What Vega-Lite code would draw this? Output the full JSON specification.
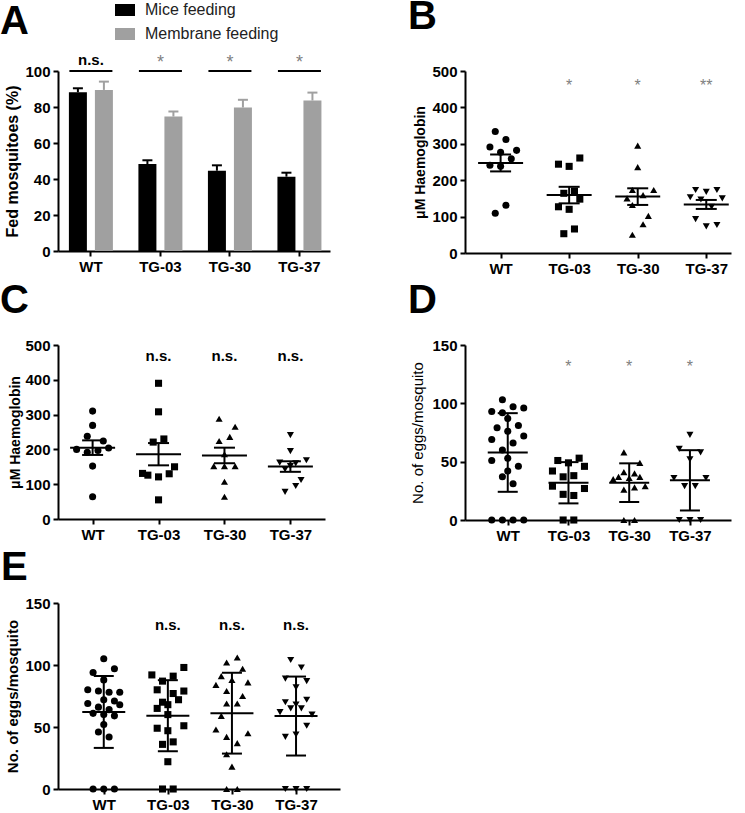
{
  "$schema": "https://vega.github.io/schema/vega-lite/v6.json",
  "padding": {"left": 0, "top": -4, "right": 5, "bottom": 0},
  "background": "white",
  "datasets": {
    "A": [
      {"g": "WT", "feed": "Mice feeding", "pct": 88.2, "upper": 90.4},
      {"g": "WT", "feed": "Membrane feeding", "pct": 89.5, "upper": 94.1},
      {"g": "TG-03", "feed": "Mice feeding", "pct": 48.3, "upper": 50.4},
      {"g": "TG-03", "feed": "Membrane feeding", "pct": 74.7, "upper": 77.5},
      {"g": "TG-30", "feed": "Mice feeding", "pct": 44.6, "upper": 47.6},
      {"g": "TG-30", "feed": "Membrane feeding", "pct": 79.7, "upper": 84.0},
      {"g": "TG-37", "feed": "Mice feeding", "pct": 41.3, "upper": 43.5},
      {"g": "TG-37", "feed": "Membrane feeding", "pct": 83.6, "upper": 88.0}
    ],
    "Asig": [
      {"g": "WT", "s": "n.s."}, {"g": "TG-03", "s": "*"}, {"g": "TG-30", "s": "*"}, {"g": "TG-37", "s": "*"}
    ],
    "B": [
      {"g": "WT", "v": 334, "j": -1}, {"g": "WT", "v": 312, "j": 1}, {"g": "WT", "v": 291, "j": -2}, {"g": "WT", "v": 277, "j": 0}, {"g": "WT", "v": 282, "j": 3},
      {"g": "WT", "v": 259, "j": 2}, {"g": "WT", "v": 241, "j": -2}, {"g": "WT", "v": 238, "j": 0}, {"g": "WT", "v": 109, "j": -1}, {"g": "WT", "v": 131, "j": 1},
      {"g": "TG-03", "v": 244, "j": -2}, {"g": "TG-03", "v": 238, "j": 0}, {"g": "TG-03", "v": 261, "j": 2}, {"g": "TG-03", "v": 164, "j": -1}, {"g": "TG-03", "v": 170, "j": 1},
      {"g": "TG-03", "v": 148, "j": 2}, {"g": "TG-03", "v": 127, "j": -2}, {"g": "TG-03", "v": 120, "j": 0}, {"g": "TG-03", "v": 53, "j": -1}, {"g": "TG-03", "v": 66, "j": 1},
      {"g": "TG-30", "v": 295, "j": 0}, {"g": "TG-30", "v": 236, "j": 0}, {"g": "TG-30", "v": 173, "j": -1}, {"g": "TG-30", "v": 173, "j": 3}, {"g": "TG-30", "v": 150, "j": -2},
      {"g": "TG-30", "v": 159, "j": 1}, {"g": "TG-30", "v": 132, "j": -1}, {"g": "TG-30", "v": 102, "j": 2}, {"g": "TG-30", "v": 79, "j": 1}, {"g": "TG-30", "v": 50, "j": -1},
      {"g": "TG-37", "v": 173, "j": -2}, {"g": "TG-37", "v": 168, "j": 0}, {"g": "TG-37", "v": 173, "j": 2}, {"g": "TG-37", "v": 153, "j": -3}, {"g": "TG-37", "v": 147, "j": -1},
      {"g": "TG-37", "v": 150, "j": 3}, {"g": "TG-37", "v": 127, "j": 1}, {"g": "TG-37", "v": 93, "j": -2}, {"g": "TG-37", "v": 73, "j": 0}, {"g": "TG-37", "v": 77, "j": 2}
    ],
    "Bsig": [{"g": "TG-03", "s": "*"}, {"g": "TG-30", "s": "*"}, {"g": "TG-37", "s": "**"}],
    "C": [
      {"g": "WT", "v": 310, "j": 0}, {"g": "WT", "v": 269, "j": 0}, {"g": "WT", "v": 238, "j": -1}, {"g": "WT", "v": 224, "j": 2}, {"g": "WT", "v": 200, "j": -3},
      {"g": "WT", "v": 192, "j": -1}, {"g": "WT", "v": 197, "j": 1}, {"g": "WT", "v": 204, "j": 3}, {"g": "WT", "v": 152, "j": 0}, {"g": "WT", "v": 64, "j": 0},
      {"g": "TG-03", "v": 390, "j": 0}, {"g": "TG-03", "v": 308, "j": 0}, {"g": "TG-03", "v": 221, "j": -1}, {"g": "TG-03", "v": 230, "j": 1}, {"g": "TG-03", "v": 150, "j": 3},
      {"g": "TG-03", "v": 131, "j": -3}, {"g": "TG-03", "v": 126, "j": -2}, {"g": "TG-03", "v": 121, "j": 0}, {"g": "TG-03", "v": 130, "j": 2}, {"g": "TG-03", "v": 55, "j": 0},
      {"g": "TG-30", "v": 288, "j": -1}, {"g": "TG-30", "v": 265, "j": 2}, {"g": "TG-30", "v": 224, "j": -1}, {"g": "TG-30", "v": 236, "j": 1}, {"g": "TG-30", "v": 186, "j": 0},
      {"g": "TG-30", "v": 152, "j": -2}, {"g": "TG-30", "v": 152, "j": 0}, {"g": "TG-30", "v": 152, "j": 2}, {"g": "TG-30", "v": 107, "j": 0}, {"g": "TG-30", "v": 64, "j": 0},
      {"g": "TG-37", "v": 241, "j": 0}, {"g": "TG-37", "v": 195, "j": 0}, {"g": "TG-37", "v": 162, "j": -2}, {"g": "TG-37", "v": 169, "j": 3}, {"g": "TG-37", "v": 160, "j": 1},
      {"g": "TG-37", "v": 143, "j": -1}, {"g": "TG-37", "v": 152, "j": 0}, {"g": "TG-37", "v": 112, "j": 2}, {"g": "TG-37", "v": 95, "j": 1}, {"g": "TG-37", "v": 78, "j": -1}
    ],
    "Csig": [{"g": "TG-03", "s": "n.s."}, {"g": "TG-30", "s": "n.s."}, {"g": "TG-37", "s": "n.s."}],
    "D": [
      {"g": "WT", "v": 103, "j": -1}, {"g": "WT", "v": 97, "j": 1}, {"g": "WT", "v": 96, "j": 3}, {"g": "WT", "v": 93, "j": -3}, {"g": "WT", "v": 92, "j": -1},
      {"g": "WT", "v": 87, "j": 0}, {"g": "WT", "v": 81, "j": 2}, {"g": "WT", "v": 79, "j": -2}, {"g": "WT", "v": 76, "j": 0}, {"g": "WT", "v": 72, "j": 3},
      {"g": "WT", "v": 69, "j": -3}, {"g": "WT", "v": 66, "j": 1}, {"g": "WT", "v": 60, "j": -1}, {"g": "WT", "v": 53, "j": 0}, {"g": "WT", "v": 51, "j": -3},
      {"g": "WT", "v": 46, "j": 2}, {"g": "WT", "v": 42, "j": 0}, {"g": "WT", "v": 37, "j": -1}, {"g": "WT", "v": 31, "j": 1},
      {"g": "WT", "v": 0, "j": -3}, {"g": "WT", "v": 0, "j": -1}, {"g": "WT", "v": 0, "j": 1}, {"g": "WT", "v": 0, "j": 3},
      {"g": "TG-03", "v": 51, "j": -2}, {"g": "TG-03", "v": 49, "j": 0}, {"g": "TG-03", "v": 53, "j": 2}, {"g": "TG-03", "v": 42, "j": -3}, {"g": "TG-03", "v": 46, "j": 3},
      {"g": "TG-03", "v": 37, "j": -1}, {"g": "TG-03", "v": 38, "j": 1}, {"g": "TG-03", "v": 29, "j": -3}, {"g": "TG-03", "v": 27, "j": 3}, {"g": "TG-03", "v": 22, "j": -1},
      {"g": "TG-03", "v": 21, "j": 1}, {"g": "TG-03", "v": 0, "j": -1}, {"g": "TG-03", "v": 0, "j": 1},
      {"g": "TG-30", "v": 58, "j": -1}, {"g": "TG-30", "v": 49, "j": 2}, {"g": "TG-30", "v": 37, "j": -2}, {"g": "TG-30", "v": 41, "j": -1}, {"g": "TG-30", "v": 40, "j": 1},
      {"g": "TG-30", "v": 37, "j": 2}, {"g": "TG-30", "v": 36, "j": 0}, {"g": "TG-30", "v": 26, "j": -1}, {"g": "TG-30", "v": 28, "j": 1}, {"g": "TG-30", "v": 29, "j": 3},
      {"g": "TG-30", "v": 35, "j": -3}, {"g": "TG-30", "v": 0, "j": -1}, {"g": "TG-30", "v": 0, "j": 1},
      {"g": "TG-37", "v": 73, "j": 0}, {"g": "TG-37", "v": 61, "j": -2}, {"g": "TG-37", "v": 58, "j": 2}, {"g": "TG-37", "v": 52, "j": 0}, {"g": "TG-37", "v": 36, "j": -3},
      {"g": "TG-37", "v": 36, "j": 3}, {"g": "TG-37", "v": 29, "j": -1}, {"g": "TG-37", "v": 29, "j": 1}, {"g": "TG-37", "v": 0, "j": -2}, {"g": "TG-37", "v": 0, "j": 0},
      {"g": "TG-37", "v": 0, "j": 2}
    ],
    "Dsig": [{"g": "TG-03", "s": "*"}, {"g": "TG-30", "s": "*"}, {"g": "TG-37", "s": "*"}],
    "E": [
      {"g": "WT", "v": 105, "j": 0}, {"g": "WT", "v": 97, "j": 2}, {"g": "WT", "v": 94, "j": -2}, {"g": "WT", "v": 88, "j": 0}, {"g": "WT", "v": 80, "j": -3},
      {"g": "WT", "v": 79, "j": -1}, {"g": "WT", "v": 78, "j": 1}, {"g": "WT", "v": 78, "j": 3}, {"g": "WT", "v": 72, "j": 0}, {"g": "WT", "v": 71, "j": 2},
      {"g": "WT", "v": 69, "j": -3}, {"g": "WT", "v": 68, "j": 3}, {"g": "WT", "v": 66, "j": -1}, {"g": "WT", "v": 64, "j": 1}, {"g": "WT", "v": 61, "j": -2},
      {"g": "WT", "v": 60, "j": 0}, {"g": "WT", "v": 59, "j": 2}, {"g": "WT", "v": 52, "j": 0}, {"g": "WT", "v": 46, "j": -1}, {"g": "WT", "v": 42, "j": 1},
      {"g": "WT", "v": 0, "j": -2}, {"g": "WT", "v": 0, "j": 0}, {"g": "WT", "v": 0, "j": 2},
      {"g": "TG-03", "v": 92, "j": -3}, {"g": "TG-03", "v": 91, "j": 1}, {"g": "TG-03", "v": 98, "j": 3}, {"g": "TG-03", "v": 87, "j": -1}, {"g": "TG-03", "v": 80, "j": -2},
      {"g": "TG-03", "v": 77, "j": 1}, {"g": "TG-03", "v": 79, "j": 3}, {"g": "TG-03", "v": 70, "j": -1}, {"g": "TG-03", "v": 65, "j": -2}, {"g": "TG-03", "v": 72, "j": 2},
      {"g": "TG-03", "v": 68, "j": 0}, {"g": "TG-03", "v": 60, "j": 0}, {"g": "TG-03", "v": 49, "j": -2}, {"g": "TG-03", "v": 47, "j": 0}, {"g": "TG-03", "v": 51, "j": 3},
      {"g": "TG-03", "v": 36, "j": -1}, {"g": "TG-03", "v": 38, "j": 1}, {"g": "TG-03", "v": 22, "j": 0}, {"g": "TG-03", "v": 0, "j": -1}, {"g": "TG-03", "v": 0, "j": 1},
      {"g": "TG-30", "v": 102, "j": -1}, {"g": "TG-30", "v": 106, "j": 1}, {"g": "TG-30", "v": 97, "j": 2}, {"g": "TG-30", "v": 84, "j": -3}, {"g": "TG-30", "v": 91, "j": -2},
      {"g": "TG-30", "v": 88, "j": 0}, {"g": "TG-30", "v": 86, "j": 3}, {"g": "TG-30", "v": 79, "j": -1}, {"g": "TG-30", "v": 75, "j": 2}, {"g": "TG-30", "v": 69, "j": -1},
      {"g": "TG-30", "v": 69, "j": 1}, {"g": "TG-30", "v": 59, "j": -2}, {"g": "TG-30", "v": 48, "j": -3}, {"g": "TG-30", "v": 42, "j": -1}, {"g": "TG-30", "v": 37, "j": 1},
      {"g": "TG-30", "v": 45, "j": 3}, {"g": "TG-30", "v": 28, "j": -1}, {"g": "TG-30", "v": 18, "j": 0}, {"g": "TG-30", "v": 0, "j": -1}, {"g": "TG-30", "v": 0, "j": 1},
      {"g": "TG-37", "v": 104, "j": -1}, {"g": "TG-37", "v": 98, "j": 1}, {"g": "TG-37", "v": 89, "j": -2}, {"g": "TG-37", "v": 87, "j": 2}, {"g": "TG-37", "v": 82, "j": 0},
      {"g": "TG-37", "v": 70, "j": -2}, {"g": "TG-37", "v": 72, "j": 2}, {"g": "TG-37", "v": 68, "j": 0}, {"g": "TG-37", "v": 65, "j": -1}, {"g": "TG-37", "v": 65, "j": 1},
      {"g": "TG-37", "v": 62, "j": -3}, {"g": "TG-37", "v": 60, "j": 3}, {"g": "TG-37", "v": 51, "j": 2}, {"g": "TG-37", "v": 44, "j": 0}, {"g": "TG-37", "v": 42, "j": -2},
      {"g": "TG-37", "v": 0, "j": -2}, {"g": "TG-37", "v": 0, "j": 0}, {"g": "TG-37", "v": 0, "j": 2}
    ],
    "Esig": [{"g": "TG-03", "s": "n.s."}, {"g": "TG-30", "s": "n.s."}, {"g": "TG-37", "s": "n.s."}]
  },
  "vconcat": [
    {
      "hconcat": [
        {
          "width": 272, "height": 180,
          "title": {"text": "A", "dx": -58, "offset": 11.5},
          "layer": [
            {
              "data": {"name": "A"},
              "mark": {"type": "bar", "opacity": 1},
              "encoding": {
                "x": {"field": "g", "type": "nominal", "sort": ["WT", "TG-03", "TG-30", "TG-37"], "scale": {"paddingInner": 0.367, "paddingOuter": 0.14, "align": 0.56}, "axis": {"title": null, "labelAngle": 0}},
                "xOffset": {"field": "feed", "type": "nominal", "sort": ["Mice feeding", "Membrane feeding"], "scale": {"paddingInner": 0.308, "paddingOuter": 0}},
                "y": {"field": "pct", "type": "quantitative", "scale": {"domain": [0, 100], "nice": false}, "title": "Fed mosquitoes (%)", "axis": {"values": [0, 20, 40, 60, 80, 100], "titleFontSize": 16, "titlePadding": 4, "labelOverlap": false}},
                "color": {"field": "feed", "type": "nominal", "sort": ["Mice feeding", "Membrane feeding"], "scale": {"domain": ["Mice feeding", "Membrane feeding"], "range": ["#000000", "#a0a0a0"]},
                  "legend": {"title": null, "orient": "none", "legendX": 57, "legendY": -71, "direction": "vertical", "symbolType": "M-1,-0.6H1V0.6H-1Z", "symbolSize": 400, "symbolStrokeWidth": 0, "symbolOpacity": 1, "labelFontSize": 16, "labelFont": "Liberation Sans", "labelColor": "#222222", "labelOffset": 10, "rowPadding": 6, "padding": 0}}
              }
            },
            {
              "data": {"name": "A"},
              "mark": {"type": "rule", "strokeWidth": 2, "opacity": 1},
              "encoding": {
                "x": {"field": "g", "type": "nominal", "sort": ["WT", "TG-03", "TG-30", "TG-37"]},
                "xOffset": {"field": "feed", "type": "nominal", "sort": ["Mice feeding", "Membrane feeding"]},
                "y": {"field": "pct", "type": "quantitative", "title": "Fed mosquitoes (%)", "axis": {"values": [0, 20, 40, 60, 80, 100], "titleFontSize": 16, "titlePadding": 4, "labelOverlap": false}},
                "y2": {"field": "upper"},
                "color": {"field": "feed", "type": "nominal", "sort": ["Mice feeding", "Membrane feeding"]}
              }
            },
            {
              "data": {"name": "A"},
              "mark": {"type": "tick", "thickness": 2, "size": 10, "orient": "horizontal", "opacity": 1},
              "encoding": {
                "x": {"field": "g", "type": "nominal", "sort": ["WT", "TG-03", "TG-30", "TG-37"]},
                "xOffset": {"field": "feed", "type": "nominal", "sort": ["Mice feeding", "Membrane feeding"]},
                "y": {"field": "upper", "type": "quantitative", "title": "Fed mosquitoes (%)", "axis": {"values": [0, 20, 40, 60, 80, 100], "titleFontSize": 16, "titlePadding": 4, "labelOverlap": false}},
                "color": {"field": "feed", "type": "nominal", "sort": ["Mice feeding", "Membrane feeding"]}
              }
            },
            {
              "data": {"name": "Asig"},
              "mark": {"type": "tick", "thickness": 2, "size": 43, "orient": "horizontal", "color": "black", "opacity": 1},
              "encoding": {
                "x": {"field": "g", "type": "nominal", "sort": ["WT", "TG-03", "TG-30", "TG-37"]},
                "y": {"datum": 100, "type": "quantitative", "title": "Fed mosquitoes (%)", "axis": {"values": [0, 20, 40, 60, 80, 100], "titleFontSize": 16, "titlePadding": 4, "labelOverlap": false}}
              }
            },
            {
              "data": {"name": "Asig"},
              "transform": [{"filter": "datum.s === 'n.s.'"}],
              "mark": {"type": "text", "fontSize": 15, "fontWeight": "bold", "font": "Liberation Sans", "color": "black", "baseline": "alphabetic"},
              "encoding": {
                "x": {"field": "g", "type": "nominal", "sort": ["WT", "TG-03", "TG-30", "TG-37"]},
                "y": {"datum": 103.3, "type": "quantitative", "title": "Fed mosquitoes (%)", "axis": {"values": [0, 20, 40, 60, 80, 100], "titleFontSize": 16, "titlePadding": 4, "labelOverlap": false}},
                "text": {"field": "s"}
              }
            },
            {
              "data": {"name": "Asig"},
              "transform": [{"filter": "datum.s === '*'"}],
              "mark": {"type": "text", "fontSize": 18, "font": "Liberation Sans", "color": "#808080", "baseline": "alphabetic"},
              "encoding": {
                "x": {"field": "g", "type": "nominal", "sort": ["WT", "TG-03", "TG-30", "TG-37"]},
                "y": {"datum": 101.5, "type": "quantitative", "title": "Fed mosquitoes (%)", "axis": {"values": [0, 20, 40, 60, 80, 100], "titleFontSize": 16, "titlePadding": 4, "labelOverlap": false}},
                "text": {"field": "s"}
              }
            }
          ]
        },
        {
          "width": 266, "height": 182,
          "title": {"text": "B", "dx": -57, "offset": 27.5},
          "layer": [
            {
              "data": {"name": "B"},
              "mark": {"type": "point", "filled": true, "opacity": 1, "size": 50, "color": "black"},
              "encoding": {
                "x": {"field": "g", "type": "nominal", "sort": ["WT", "TG-03", "TG-30", "TG-37"], "scale": {"type": "point", "padding": 0.44, "align": 0.59}, "axis": {"title": null, "labelAngle": 0}},
                "xOffset": {"field": "j", "type": "quantitative", "scale": {"domain": [-6, 6], "range": [-32, 32]}},
                "y": {"field": "v", "type": "quantitative", "scale": {"domain": [0, 500], "nice": false}, "title": "μM Haemoglobin", "axis": {"values": [0, 100, 200, 300, 400, 500], "titlePadding": 4, "labelOverlap": false}},
                "shape": {"field": "g", "type": "nominal", "scale": {"domain": ["WT", "TG-03", "TG-30", "TG-37"], "range": ["circle", "square", "triangle-up", "triangle-down"]}, "legend": null}
              }
            },
            {
              "data": {"name": "B"},
              "mark": {"type": "tick", "orient": "horizontal", "size": 45, "thickness": 2, "color": "black", "opacity": 1},
              "encoding": {
                "x": {"field": "g", "type": "nominal", "sort": ["WT", "TG-03", "TG-30", "TG-37"]},
                "y": {"aggregate": "mean", "field": "v", "type": "quantitative", "title": "μM Haemoglobin", "axis": {"values": [0, 100, 200, 300, 400, 500], "titlePadding": 4, "labelOverlap": false}}
              }
            },
            {
              "data": {"name": "B"},
              "mark": {"type": "errorbar", "extent": "stderr", "ticks": {"size": 21, "thickness": 2, "color": "black", "opacity": 1}, "rule": {"strokeWidth": 2, "color": "black", "opacity": 1}},
              "encoding": {
                "x": {"field": "g", "type": "nominal", "sort": ["WT", "TG-03", "TG-30", "TG-37"]},
                "y": {"field": "v", "type": "quantitative", "title": "μM Haemoglobin", "axis": {"values": [0, 100, 200, 300, 400, 500], "titlePadding": 4, "labelOverlap": false}}
              }
            },
            {
              "data": {"name": "Bsig"},
              "mark": {"type": "text", "fontSize": 16, "font": "Liberation Sans", "color": "#808080", "baseline": "alphabetic"},
              "encoding": {
                "x": {"field": "g", "type": "nominal", "sort": ["WT", "TG-03", "TG-30", "TG-37"]},
                "y": {"datum": 444, "type": "quantitative", "title": "μM Haemoglobin", "axis": {"values": [0, 100, 200, 300, 400, 500], "titlePadding": 4, "labelOverlap": false}},
                "text": {"field": "s"}
              }
            }
          ]
        }
      ],
      "spacing": 78
    },
    {
      "hconcat": [
        {
          "width": 267, "height": 174,
          "title": {"text": "C", "dx": -58, "offset": 17},
          "layer": [
            {
              "data": {"name": "C"},
              "mark": {"type": "point", "filled": true, "opacity": 1, "size": 50, "color": "black"},
              "encoding": {
                "x": {"field": "g", "type": "nominal", "sort": ["WT", "TG-03", "TG-30", "TG-37"], "scale": {"type": "point", "padding": 0.525, "align": 0.5}, "axis": {"title": null, "labelAngle": 0}},
                "xOffset": {"field": "j", "type": "quantitative", "scale": {"domain": [-6, 6], "range": [-32, 32]}},
                "y": {"field": "v", "type": "quantitative", "scale": {"domain": [0, 500], "nice": false}, "title": "μM Haemoglobin", "axis": {"values": [0, 100, 200, 300, 400, 500], "titlePadding": 2, "labelOverlap": false}},
                "shape": {"field": "g", "type": "nominal", "scale": {"domain": ["WT", "TG-03", "TG-30", "TG-37"], "range": ["circle", "square", "triangle-up", "triangle-down"]}, "legend": null}
              }
            },
            {
              "data": {"name": "C"},
              "mark": {"type": "tick", "orient": "horizontal", "size": 45, "thickness": 2, "color": "black", "opacity": 1},
              "encoding": {
                "x": {"field": "g", "type": "nominal", "sort": ["WT", "TG-03", "TG-30", "TG-37"]},
                "y": {"aggregate": "mean", "field": "v", "type": "quantitative", "title": "μM Haemoglobin", "axis": {"values": [0, 100, 200, 300, 400, 500], "titlePadding": 2, "labelOverlap": false}}
              }
            },
            {
              "data": {"name": "C"},
              "mark": {"type": "errorbar", "extent": "stderr", "ticks": {"size": 21, "thickness": 2, "color": "black", "opacity": 1}, "rule": {"strokeWidth": 2, "color": "black", "opacity": 1}},
              "encoding": {
                "x": {"field": "g", "type": "nominal", "sort": ["WT", "TG-03", "TG-30", "TG-37"]},
                "y": {"field": "v", "type": "quantitative", "title": "μM Haemoglobin", "axis": {"values": [0, 100, 200, 300, 400, 500], "titlePadding": 2, "labelOverlap": false}}
              }
            },
            {
              "data": {"name": "Csig"},
              "mark": {"type": "text", "fontSize": 15, "fontWeight": "bold", "font": "Liberation Sans", "color": "black", "baseline": "middle"},
              "encoding": {
                "x": {"field": "g", "type": "nominal", "sort": ["WT", "TG-03", "TG-30", "TG-37"]},
                "y": {"datum": 468, "type": "quantitative", "title": "μM Haemoglobin", "axis": {"values": [0, 100, 200, 300, 400, 500], "titlePadding": 2, "labelOverlap": false}},
                "text": {"field": "s"}
              }
            }
          ]
        },
        {
          "width": 266, "height": 175,
          "title": {"text": "D", "dx": -57, "offset": 17},
          "layer": [
            {
              "data": {"name": "D"},
              "mark": {"type": "point", "filled": true, "opacity": 1, "size": 50, "color": "black"},
              "encoding": {
                "x": {"field": "g", "type": "nominal", "sort": ["WT", "TG-03", "TG-30", "TG-37"], "scale": {"type": "point", "padding": 0.69, "align": 0.51}, "axis": {"title": null, "labelAngle": 0}},
                "xOffset": {"field": "j", "type": "quantitative", "scale": {"domain": [-6, 6], "range": [-32, 32]}},
                "y": {"field": "v", "type": "quantitative", "scale": {"domain": [0, 150], "nice": false}, "title": "No. of eggs/mosquito", "axis": {"values": [0, 50, 100, 150], "titlePadding": 6, "titleFontSize": 15, "titleFontWeight": "normal", "labelOverlap": false}},
                "shape": {"field": "g", "type": "nominal", "scale": {"domain": ["WT", "TG-03", "TG-30", "TG-37"], "range": ["circle", "square", "triangle-up", "triangle-down"]}, "legend": null}
              }
            },
            {
              "data": {"name": "D"},
              "mark": {"type": "tick", "orient": "horizontal", "size": 40, "thickness": 2, "color": "black", "opacity": 1},
              "encoding": {
                "x": {"field": "g", "type": "nominal", "sort": ["WT", "TG-03", "TG-30", "TG-37"]},
                "y": {"aggregate": "mean", "field": "v", "type": "quantitative", "title": "No. of eggs/mosquito", "axis": {"values": [0, 50, 100, 150], "titlePadding": 6, "titleFontSize": 15, "titleFontWeight": "normal", "labelOverlap": false}}
              }
            },
            {
              "data": {"name": "D"},
              "mark": {"type": "errorbar", "extent": "stdev", "ticks": {"size": 20, "thickness": 2, "color": "black", "opacity": 1}, "rule": {"strokeWidth": 2, "color": "black", "opacity": 1}},
              "encoding": {
                "x": {"field": "g", "type": "nominal", "sort": ["WT", "TG-03", "TG-30", "TG-37"]},
                "y": {"field": "v", "type": "quantitative", "title": "No. of eggs/mosquito", "axis": {"values": [0, 50, 100, 150], "titlePadding": 6, "titleFontSize": 15, "titleFontWeight": "normal", "labelOverlap": false}}
              }
            },
            {
              "data": {"name": "Dsig"},
              "mark": {"type": "text", "fontSize": 16, "font": "Liberation Sans", "color": "#808080", "baseline": "alphabetic"},
              "encoding": {
                "x": {"field": "g", "type": "nominal", "sort": ["WT", "TG-03", "TG-30", "TG-37"]},
                "y": {"datum": 126.5, "type": "quantitative", "title": "No. of eggs/mosquito", "axis": {"values": [0, 50, 100, 150], "titlePadding": 6, "titleFontSize": 15, "titleFontWeight": "normal", "labelOverlap": false}},
                "text": {"field": "s"}
              }
            }
          ]
        }
      ],
      "spacing": 83
    },
    {
      "width": 282, "height": 186,
      "title": {"text": "E", "dx": -57, "offset": 8},
      "layer": [
        {
          "data": {"name": "E"},
          "mark": {"type": "point", "filled": true, "opacity": 1, "size": 50, "color": "black"},
          "encoding": {
            "x": {"field": "g", "type": "nominal", "sort": ["WT", "TG-03", "TG-30", "TG-37"], "scale": {"type": "point", "padding": 0.7, "align": 0.51}, "axis": {"title": null, "labelAngle": 0}},
            "xOffset": {"field": "j", "type": "quantitative", "scale": {"domain": [-6, 6], "range": [-32, 32]}},
            "y": {"field": "v", "type": "quantitative", "scale": {"domain": [0, 150], "nice": false}, "title": "No. of eggs/mosquito", "axis": {"values": [0, 50, 100, 150], "titlePadding": 4, "titleFontSize": 15, "labelOverlap": false}},
            "shape": {"field": "g", "type": "nominal", "scale": {"domain": ["WT", "TG-03", "TG-30", "TG-37"], "range": ["circle", "square", "triangle-up", "triangle-down"]}, "legend": null}
          }
        },
        {
          "data": {"name": "E"},
          "mark": {"type": "tick", "orient": "horizontal", "size": 43, "thickness": 2, "color": "black", "opacity": 1},
          "encoding": {
            "x": {"field": "g", "type": "nominal", "sort": ["WT", "TG-03", "TG-30", "TG-37"]},
            "y": {"aggregate": "mean", "field": "v", "type": "quantitative", "title": "No. of eggs/mosquito", "axis": {"values": [0, 50, 100, 150], "titlePadding": 4, "titleFontSize": 15, "labelOverlap": false}}
          }
        },
        {
          "data": {"name": "E"},
          "mark": {"type": "errorbar", "extent": "stdev", "ticks": {"size": 20, "thickness": 2, "color": "black", "opacity": 1}, "rule": {"strokeWidth": 2, "color": "black", "opacity": 1}},
          "encoding": {
            "x": {"field": "g", "type": "nominal", "sort": ["WT", "TG-03", "TG-30", "TG-37"]},
            "y": {"field": "v", "type": "quantitative", "title": "No. of eggs/mosquito", "axis": {"values": [0, 50, 100, 150], "titlePadding": 4, "titleFontSize": 15, "labelOverlap": false}}
          }
        },
        {
          "data": {"name": "Esig"},
          "mark": {"type": "text", "fontSize": 15, "fontWeight": "bold", "font": "Liberation Sans", "color": "black", "baseline": "middle"},
          "encoding": {
            "x": {"field": "g", "type": "nominal", "sort": ["WT", "TG-03", "TG-30", "TG-37"]},
            "y": {"datum": 132, "type": "quantitative", "title": "No. of eggs/mosquito", "axis": {"values": [0, 50, 100, 150], "titlePadding": 4, "titleFontSize": 15, "labelOverlap": false}},
            "text": {"field": "s"}
          }
        }
      ]
    }
  ],
  "spacing": 5,
  "config": {
    "view": {"stroke": null},
    "font": "Liberation Sans",
    "axis": {
      "grid": false, "domainColor": "black", "domainWidth": 2, "tickColor": "black", "tickWidth": 2, "tickSize": 5,
      "labelFont": "Liberation Sans", "labelFontWeight": "bold", "labelFontSize": 15, "labelColor": "black", "labelPadding": 3,
      "titleFont": "Liberation Sans", "titleFontWeight": "bold", "titleFontSize": 14, "titleColor": "black"
    },
    "title": {"font": "Liberation Sans", "fontSize": 40, "fontWeight": "bold", "anchor": "start", "color": "black", "frame": "group", "baseline": "alphabetic"}
  }
}
